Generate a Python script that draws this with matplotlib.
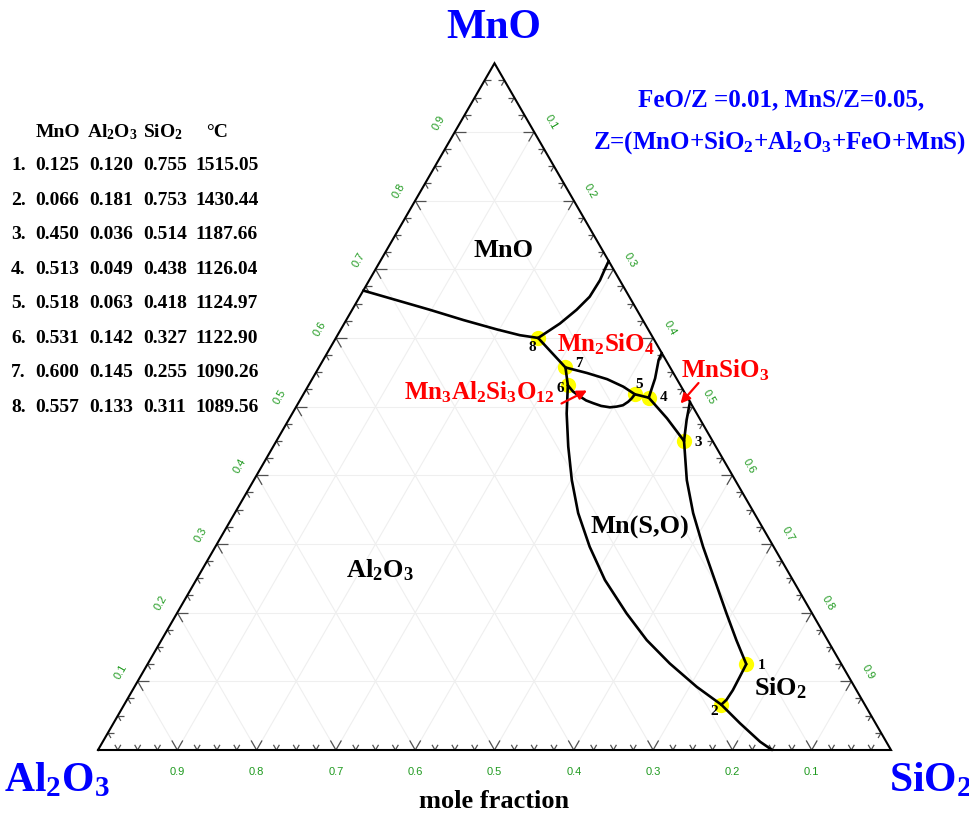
import numpy as np
import matplotlib
matplotlib.use('Agg')
import matplotlib.pyplot as plt

plt.rcParams['font.family'] = ['Liberation Serif', 'DejaVu Serif']
plt.rcParams['font.weight'] = 'bold'
plt.rcParams['mathtext.fontset'] = 'custom'
plt.rcParams['mathtext.rm'] = 'Liberation Serif:bold'
plt.rcParams['mathtext.it'] = 'Liberation Serif:bold'
plt.rcParams['mathtext.bf'] = 'Liberation Serif:bold'

# ---------------- data ----------------
# invariant points (mole fractions) and temperatures
pt_mno   = [0.125, 0.066, 0.450, 0.513, 0.518, 0.531, 0.600, 0.557]
pt_al2o3 = [0.120, 0.181, 0.036, 0.049, 0.063, 0.142, 0.145, 0.133]
pt_sio2  = [0.755, 0.753, 0.514, 0.438, 0.418, 0.327, 0.255, 0.311]
pt_temp  = [1515.05, 1430.44, 1187.66, 1126.04, 1124.97, 1122.90, 1090.26, 1089.56]
row_ids  = ['1.', '2.', '3.', '4.', '5.', '6.', '7.', '8.']
# labels as printed next to the points in the diagram
pt_plot_labels = ['1', '2', '3', '4', '5', '6', '8', '7']

# boundary curves (MnO, SiO2 mole fractions)
curve_a_mno  = [0.669, 0.655, 0.641, 0.626, 0.6125, 0.604, 0.600]
curve_a_sio2 = [0.000, 0.049, 0.098, 0.148, 0.1965, 0.230, 0.255]
curve_b_mno  = [0.600, 0.621, 0.641, 0.660, 0.684, 0.701, 0.712]
curve_b_sio2 = [0.255, 0.272, 0.283, 0.290, 0.291, 0.289, 0.288]
curve_c_mno  = [0.600, 0.557]
curve_c_sio2 = [0.255, 0.311]
curve_d_mno  = [0.557, 0.549, 0.540, 0.529, 0.518]
curve_d_sio2 = [0.311, 0.342, 0.372, 0.398, 0.418]
curve_e_mno  = [0.557, 0.531]
curve_e_sio2 = [0.311, 0.327]
curve_f_mno  = [0.531, 0.522, 0.515, 0.509, 0.505, 0.501, 0.499, 0.500, 0.502, 0.507, 0.512, 0.518]
curve_f_sio2 = [0.327, 0.338, 0.350, 0.361, 0.372, 0.384, 0.396, 0.404, 0.411, 0.415, 0.417, 0.418]
curve_g_mno  = [0.518, 0.513]
curve_g_sio2 = [0.418, 0.438]
curve_h_mno  = [0.513, 0.541, 0.568, 0.578]
curve_h_sio2 = [0.438, 0.432, 0.423, 0.422]
curve_i_mno  = [0.513, 0.483, 0.450]
curve_i_sio2 = [0.438, 0.476, 0.514]
curve_j_mno  = [0.450, 0.4805, 0.507]
curve_j_sio2 = [0.514, 0.502, 0.493]
curve_k_mno  = [0.450, 0.393, 0.345, 0.296, 0.2475, 0.199, 0.160, 0.125]
curve_k_sio2 = [0.514, 0.546, 0.578, 0.615, 0.654, 0.693, 0.725, 0.755]
curve_l_mno  = [0.125, 0.107, 0.087, 0.073, 0.066]
curve_l_sio2 = [0.755, 0.756, 0.757, 0.756, 0.753]
curve_m_mno  = [0.531, 0.490, 0.442, 0.393, 0.345, 0.296, 0.2475, 0.199,
                0.160, 0.126, 0.092, 0.066, 0.039, 0.012, 0.000]
curve_m_sio2 = [0.327, 0.346, 0.372, 0.401, 0.433, 0.472, 0.5155, 0.567,
                0.612, 0.658, 0.709, 0.753, 0.790, 0.829, 0.850]

curves = [(curve_a_mno, curve_a_sio2), (curve_b_mno, curve_b_sio2),
          (curve_c_mno, curve_c_sio2), (curve_d_mno, curve_d_sio2),
          (curve_e_mno, curve_e_sio2), (curve_f_mno, curve_f_sio2),
          (curve_g_mno, curve_g_sio2), (curve_h_mno, curve_h_sio2),
          (curve_i_mno, curve_i_sio2), (curve_j_mno, curve_j_sio2),
          (curve_k_mno, curve_k_sio2), (curve_l_mno, curve_l_sio2),
          (curve_m_mno, curve_m_sio2)]

tick_values = [0.1, 0.2, 0.3, 0.4, 0.5, 0.6, 0.7, 0.8, 0.9]

# ---------------- helpers ----------------
S3 = np.sqrt(3) / 2


def tern(mno, sio2):
    mno = np.asarray(mno, float)
    sio2 = np.asarray(sio2, float)
    return sio2 + mno / 2.0, mno * S3


SCALE = 793.0   # pixels per unit edge
X0, Y0 = 98.0, 750.0


def P(px, py):
    return (px - X0) / SCALE, (Y0 - py) / SCALE


W, H = 970, 814
fig = plt.figure(figsize=(W / 100, H / 100), dpi=100)
ax = fig.add_axes([0, 0, 1, 1])
ax.set_xlim(-X0 / SCALE, (W - X0) / SCALE)
ax.set_ylim(-(H - Y0) / SCALE, Y0 / SCALE)
ax.axis('off')

# grid
gcol = '#efefef'
for v in tick_values:
    x, y = tern([v, v], [0, 1 - v])          # constant MnO
    ax.plot(x, y, color=gcol, lw=0.8, zorder=1)
    x, y = tern([0, 1 - v], [v, v])          # constant SiO2
    ax.plot(x, y, color=gcol, lw=0.8, zorder=1)
    x, y = tern([0, 1 - v], [1 - v, 0])      # constant Al2O3
    ax.plot(x, y, color=gcol, lw=0.8, zorder=1)

# ticks
major_len = 11 / SCALE
minor_len = 6 / SCALE
d60 = np.array([0.5, S3])
d120 = np.array([-0.5, S3])
d0 = np.array([1.0, 0.0])
dm60 = np.array([0.5, -S3])
d180 = np.array([-1.0, 0.0])
d240 = np.array([-0.5, -S3])
for i in range(1, 40):
    v = i * 0.025
    L = major_len if i % 4 == 0 else minor_len
    b = np.array(tern(0, v))        # bottom edge
    l = np.array(tern(v, 0))        # left edge
    r = np.array(tern(v, 1 - v))    # right edge
    for base, dirs in ((b, (d60, d120)), (l, (d0, dm60)), (r, (d180, d240))):
        for d in dirs:
            e = base + L * d
            ax.plot([base[0], e[0]], [base[1], e[1]], color='#505050', lw=0.9,
                    zorder=2, solid_capstyle='butt')

# frame
fx, fy = tern([0, 0, 1, 0], [0, 1, 0, 0])
ax.plot(fx, fy, color='black', lw=1.5, zorder=4, solid_joinstyle='miter')

# tick labels
green = '#1f9a1f'
off = 19 / SCALE
tfs = 8
for v in tick_values:
    x, y = tern(0, 1 - v)            # bottom: Al2O3
    ax.text(x, y - 22 / SCALE, f'{v:.1f}', color=green, fontsize=tfs,
            family='Liberation Sans', fontweight='normal', ha='center', va='center')
    x, y = tern(v, 0)                # left: MnO
    ax.text(x - off * S3, y + off * 0.5, f'{v:.1f}', color=green, fontsize=tfs,
            family='Liberation Sans', fontweight='normal', ha='center', va='center',
            rotation=60, rotation_mode='anchor')
    x, y = tern(1 - v, v)            # right: SiO2
    ax.text(x + off * S3, y + off * 0.5, f'{v:.1f}', color=green, fontsize=tfs,
            family='Liberation Sans', fontweight='normal', ha='center', va='center',
            rotation=-60, rotation_mode='anchor')

# invariant points
px_, py_ = tern(pt_mno, pt_sio2)
ax.plot(px_, py_, 'o', color='#ffff00', markersize=11, markeredgewidth=0, zorder=3)

# boundary lines
for m, s in curves:
    x, y = tern(m, s)
    ax.plot(x, y, color='black', lw=1.9, zorder=5, solid_joinstyle='round',
            solid_capstyle='round')

# point labels (pixel offsets from point, +y = down)
label_offsets = [(15, 1), (-7, 7), (14, 2), (15, 0), (4, -10), (-8, 3), (-6, 10), (13, -4)]
for (ox, oy), lab, x, y in zip(label_offsets, pt_plot_labels, px_, py_):
    ax.text(x + ox / SCALE, y - oy / SCALE, lab, fontsize=11, ha='center',
            va='center', color='black', zorder=6)

# region labels
ax.text(*P(503, 250), 'MnO', fontsize=19, ha='center', va='center')
ax.text(*P(380, 570), 'Al$_2$O$_3$', fontsize=19, ha='center', va='center')
ax.text(*P(640, 527), 'Mn(S,O)', fontsize=19, ha='center', va='center')
ax.text(*P(781, 688), 'SiO$_2$', fontsize=19, ha='center', va='center')

# phase labels in red
red = '#ff0000'
ax.text(*P(606, 344), 'Mn$_2$SiO$_4$', fontsize=18, color=red, ha='center', va='center')
ax.text(*P(479, 392), 'Mn$_3$Al$_2$Si$_3$O$_{12}$', fontsize=18, color=red,
        ha='center', va='center')
ax.text(*P(725, 370), 'MnSiO$_3$', fontsize=18, color=red, ha='center', va='center')
ax.annotate('', xy=P(587, 390.5), xytext=P(561.5, 403.5),
            arrowprops=dict(arrowstyle='-|>', color=red, lw=1.6, mutation_scale=14,
                            shrinkA=0, shrinkB=0), zorder=7)
ax.annotate('', xy=P(680.5, 403.5), xytext=P(698.5, 383),
            arrowprops=dict(arrowstyle='-|>', color=red, lw=1.6, mutation_scale=14,
                            shrinkA=0, shrinkB=0), zorder=7)

# vertex labels
blue = '#0000ff'
ax.text(*P(494, 28), 'MnO', fontsize=30, color=blue, ha='center', va='center')
ax.text(*P(57, 781), 'Al$_2$O$_3$', fontsize=30, color=blue, ha='center', va='center')
ax.text(*P(930, 781), 'SiO$_2$', fontsize=30, color=blue, ha='center', va='center')
ax.text(*P(494, 802), 'mole fraction', fontsize=19, color='black', ha='center', va='center')

# conditions
ax.text(*P(781, 100), 'FeO/Z =0.01, MnS/Z=0.05,', fontsize=18, color=blue,
        ha='center', va='center')
ax.text(*P(780, 143), 'Z=(MnO+SiO$_2$+Al$_2$O$_3$+FeO+MnS)', fontsize=18, color=blue,
        ha='center', va='center')

# table
hdr_y = 132
ax.text(*P(58, hdr_y), 'MnO', fontsize=14, ha='center', va='center')
ax.text(*P(112, hdr_y), 'Al$_2$O$_3$', fontsize=14, ha='center', va='center')
ax.text(*P(162.5, hdr_y), 'SiO$_2$', fontsize=14, ha='center', va='center')
ax.text(*P(217, hdr_y), '°C', fontsize=14, ha='center', va='center')
for i in range(len(pt_mno)):
    yy = 165.5 + 34.5 * i
    ax.text(*P(11, yy), row_ids[i], fontsize=14, ha='left', va='center')
    ax.text(*P(57.5, yy), f'{pt_mno[i]:.3f}', fontsize=14, ha='center', va='center')
    ax.text(*P(111, yy), f'{pt_al2o3[i]:.3f}', fontsize=14, ha='center', va='center')
    ax.text(*P(165, yy), f'{pt_sio2[i]:.3f}', fontsize=14, ha='center', va='center')
    ax.text(*P(227, yy), f'{pt_temp[i]:.2f}', fontsize=14, ha='center', va='center')

fig.savefig('out.png', dpi=100)
